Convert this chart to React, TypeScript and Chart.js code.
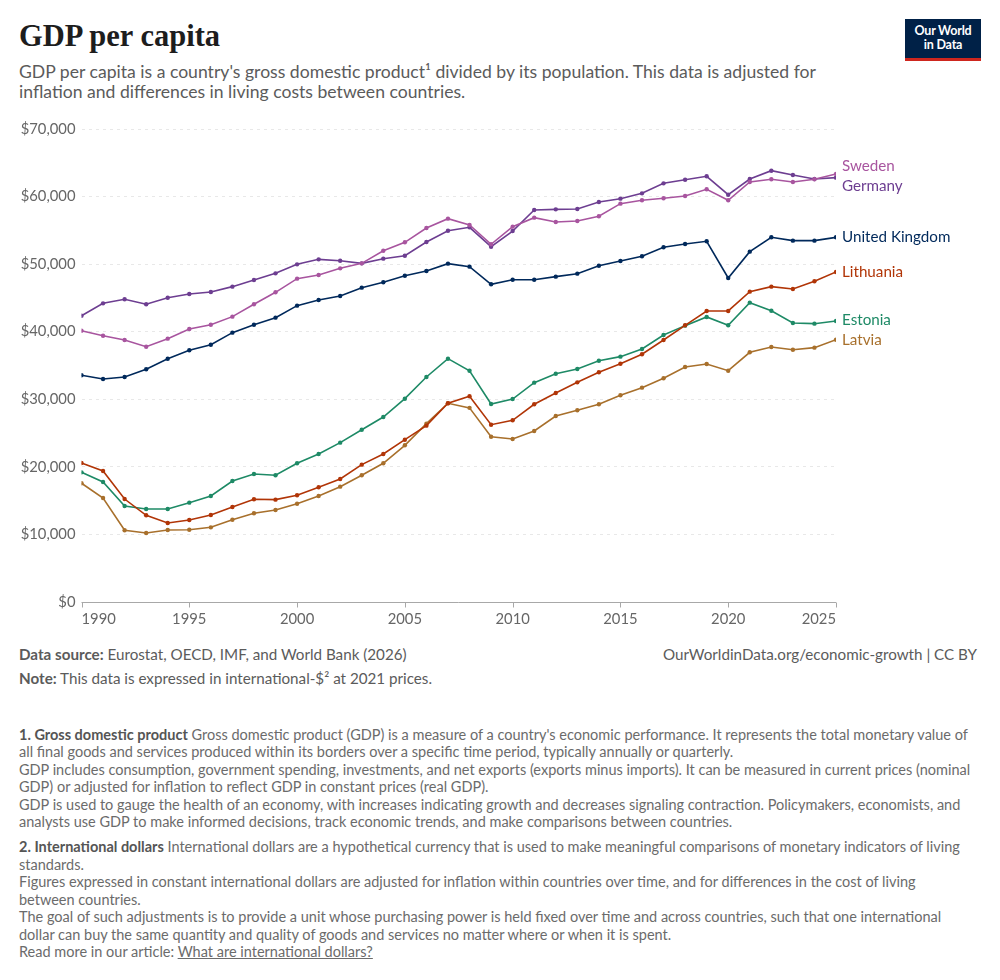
import React, { useEffect, useRef } from "react";
import { Chart, registerables } from "chart.js";

Chart.register(...registerables);

const years = [
  1990, 1991, 1992, 1993, 1994, 1995, 1996, 1997, 1998, 1999, 2000, 2001,
  2002, 2003, 2004, 2005, 2006, 2007, 2008, 2009, 2010, 2011, 2012, 2013,
  2014, 2015, 2016, 2017, 2018, 2019, 2020, 2021, 2022, 2023, 2024, 2025,
];

const sweden = [
  40150, 39410, 38770, 37780, 38970, 40400, 41040, 42230, 44060, 45830, 47850,
  48390, 49380, 50120, 51990, 53230, 55350, 56730, 55790, 52940, 55550, 56880,
  56240, 56390, 57080, 58950, 59450, 59750, 60090, 61080, 59450, 62160, 62560,
  62160, 62560, 63340,
];
const germany = [
  42370, 44200, 44800, 44060, 45030, 45580, 45880, 46670, 47650, 48640, 49970,
  50710, 50510, 50120, 50810, 51250, 53280, 54950, 55450, 52580, 54900, 58010,
  58110, 58160, 59200, 59690, 60480, 61960, 62500, 63000, 60280, 62600, 63830,
  63190, 62600, 62800,
];
const unitedKingdom = [
  33550, 33000, 33300, 34440, 36010, 37250, 38080, 39860, 41040, 42080, 43860,
  44690, 45290, 46520, 47310, 48290, 48990, 50070, 49630, 47020, 47700, 47700,
  48150, 48590, 49770, 50470, 51160, 52490, 52980, 53380, 47950, 51850, 53970,
  53480, 53480, 53970,
];
const lithuania = [
  20570, 19390, 15240, 12830, 11690, 12140, 12880, 14060, 15200, 15150, 15790,
  16980, 18200, 20330, 21900, 24020, 26100, 29410, 30460, 26240, 26890, 29260,
  30930, 32510, 34000, 35270, 36660, 38770, 40950, 43070, 43070, 45930, 46670,
  46320, 47460, 48840,
];
const estonia = [
  19190, 17760, 14210, 13760, 13760, 14700, 15690, 17910, 18940, 18750, 20530,
  21900, 23580, 25500, 27380, 30090, 33300, 36010, 34220, 29300, 30040, 32460,
  33790, 34480, 35710, 36310, 37440, 39510, 40900, 42180, 40950, 44300, 43110,
  41290, 41190, 41590,
];
const latvia = [
  17570, 15390, 10610, 10210, 10660, 10700, 11050, 12180, 13130, 13620, 14550,
  15690, 17070, 18750, 20530, 23190, 26390, 29410, 28730, 24460, 24120, 25310,
  27530, 28370, 29260, 30590, 31720, 33110, 34780, 35220, 34230, 36950, 37740,
  37340, 37640, 38820,
];

const seriesNames = ["Sweden", "Germany", "United Kingdom", "Lithuania", "Estonia", "Latvia"];
const seriesValues = [sweden, germany, unitedKingdom, lithuania, estonia, latvia];
const seriesColors = ["#a8559f", "#6d3e91", "#00295b", "#b13507", "#1e8a66", "#a8702c"];

const xTicks = [1990, 1995, 2000, 2005, 2010, 2015, 2020, 2025];
const yTicks = [0, 10000, 20000, 30000, 40000, 50000, 60000, 70000];

const FONT = "Lato, 'Noto Sans', sans-serif";

const overlayPlugin = {
  id: "owidOverlay",
  afterDraw(chart: any) {
    const { ctx, chartArea, scales } = chart;
    const xs = scales.x;
    const ys = scales.y;
    ctx.save();
    const by = Math.round(chartArea.bottom) + 0.5;
    ctx.strokeStyle = "#a8a8a8";
    ctx.lineWidth = 1;
    ctx.beginPath();
    ctx.moveTo(chartArea.left, by);
    ctx.lineTo(chartArea.right, by);
    xTicks.forEach((t) => {
      const px = Math.round(xs.getPixelForValue(t)) + 0.5;
      ctx.moveTo(px, by);
      ctx.lineTo(px, by + 5);
    });
    ctx.stroke();
    ctx.fillStyle = "#666666";
    ctx.font = `14.8px ${FONT}`;
    ctx.textBaseline = "alphabetic";
    xTicks.forEach((t, i) => {
      const px = xs.getPixelForValue(t);
      ctx.textAlign = i === 0 ? "left" : i === xTicks.length - 1 ? "right" : "center";
      ctx.fillText(String(t), px, by + 21);
    });
    const items = seriesNames.map((name, i) => {
      const vals = seriesValues[i];
      const y = ys.getPixelForValue(vals[vals.length - 1]);
      return { name, color: seriesColors[i], y, ly: y };
    });
    const sorted = [...items].sort((a, b) => a.y - b.y);
    const minGap = 20;
    for (let iter = 0; iter < 50; iter++) {
      for (let k = 0; k < sorted.length - 1; k++) {
        const a = sorted[k];
        const b = sorted[k + 1];
        const gap = b.ly - a.ly;
        if (gap < minGap) {
          const d = (minGap - gap) / 2;
          a.ly -= d;
          b.ly += d;
        }
      }
    }
    ctx.font = `15.2px ${FONT}`;
    ctx.textAlign = "left";
    ctx.textBaseline = "middle";
    const lx = xs.getPixelForValue(years[years.length - 1]) + 6;
    items.forEach((it) => {
      ctx.fillStyle = it.color;
      ctx.fillText(it.name, lx, it.ly);
    });
    ctx.restore();
  },
};

function GdpChart() {
  const ref = useRef<HTMLCanvasElement | null>(null);
  useEffect(() => {
    if (!ref.current) return;
    const datasets = seriesNames.map((name, i) => ({
      label: name,
      data: years.map((yr, j) => ({ x: yr, y: seriesValues[i][j] })),
      borderColor: seriesColors[i],
      backgroundColor: seriesColors[i],
      pointBackgroundColor: seriesColors[i],
      pointBorderWidth: 0,
      pointRadius: 2.2,
      borderWidth: 1.6,
      tension: 0,
      fill: false,
    }));
    const chart = new Chart(ref.current, {
      type: "line",
      data: { datasets },
      options: {
        animation: false,
        responsive: false,
        maintainAspectRatio: false,
        layout: { padding: { top: 19, right: 164, bottom: 28, left: 0 } },
        plugins: {
          legend: { display: false },
          tooltip: { enabled: false },
        },
        scales: {
          x: {
            type: "linear",
            min: years[0],
            max: years[years.length - 1],
            display: false,
          },
          y: {
            type: "linear",
            min: yTicks[0],
            max: yTicks[yTicks.length - 1],
            afterFit: (scale: any) => {
              scale.width = 81.5;
            },
            afterBuildTicks: (scale: any) => {
              scale.ticks = yTicks.map((v) => ({ value: v }));
            },
            grid: {
              color: "#e8e8e8",
              drawTicks: false,
              lineWidth: 1,
            },
            border: { display: false, dash: [3, 4] },
            ticks: {
              padding: 6,
              color: "#666666",
              font: { family: FONT, size: 14.8 },
              callback: (v: any) => "$" + Number(v).toLocaleString("en-US"),
            },
          },
        },
      },
      plugins: [overlayPlugin],
    });
    return () => chart.destroy();
  }, []);
  return (
    <canvas
      ref={ref}
      width={1000}
      height={520}
      style={{ position: "absolute", left: 0, top: 110, width: 1000, height: 520 }}
    />
  );
}

const fnLine: React.CSSProperties = { whiteSpace: "nowrap", height: 17.5 };

export default function App() {
  return (
    <div
      style={{
        position: "absolute",
        left: 0,
        top: 0,
        width: 1000,
        height: 980,
        background: "#ffffff",
        fontFamily: FONT,
        overflow: "hidden",
      }}
    >
      <div
        style={{
          position: "absolute",
          left: 19,
          top: 21,
          fontFamily: "'Liberation Serif', 'DejaVu Serif', serif",
          fontWeight: 700,
          fontSize: 30.5,
          lineHeight: "31px",
          color: "#1d1d1d",
          whiteSpace: "nowrap",
        }}
      >
        GDP per capita
      </div>
      <div
        style={{
          position: "absolute",
          left: 19,
          top: 61.5,
          fontSize: 17.6,
          lineHeight: "20px",
          color: "#5b5b5b",
          whiteSpace: "nowrap",
        }}
      >
        <div>
          GDP per capita is a country's gross domestic product¹ divided by its population. This data is adjusted for
        </div>
        <div>inflation and differences in living costs between countries.</div>
      </div>
      <div
        style={{
          position: "absolute",
          left: 905,
          top: 19,
          width: 76,
          height: 42,
          background: "#002147",
          color: "#ffffff",
          fontWeight: 700,
          fontSize: 12.5,
          lineHeight: "14px",
          textAlign: "center",
          boxSizing: "border-box",
          paddingTop: 5,
          borderBottom: "3px solid #ce261e",
          letterSpacing: -0.2,
        }}
      >
        <div>Our World</div>
        <div>in Data</div>
      </div>

      <GdpChart />

      <div
        style={{
          position: "absolute",
          left: 19,
          top: 642,
          fontSize: 15.2,
          lineHeight: "24px",
          color: "#5b5b5b",
          whiteSpace: "nowrap",
        }}
      >
        <div>
          <b style={{ fontWeight: 700 }}>Data source:</b> Eurostat, OECD, IMF, and World Bank (2026)
        </div>
        <div>
          <b style={{ fontWeight: 700 }}>Note:</b> This data is expressed in international-$² at 2021 prices.
        </div>
      </div>
      <div
        style={{
          position: "absolute",
          right: 23,
          top: 642,
          fontSize: 15.2,
          lineHeight: "24px",
          color: "#5b5b5b",
          whiteSpace: "nowrap",
        }}
      >
        OurWorldinData.org/economic-growth | CC BY
      </div>

      <div
        style={{
          position: "absolute",
          left: 19,
          top: 725.5,
          fontSize: 14.5,
          lineHeight: "17.5px",
          color: "#6b6b6b",
        }}
      >
        <div style={fnLine}>
          <b style={{ color: "#555" }}>1. Gross domestic product</b> Gross domestic product (GDP) is a measure of a country's economic performance. It represents the total monetary value of
        </div>
        <div style={fnLine}>
          all final goods and services produced within its borders over a specific time period, typically annually or quarterly.
        </div>
        <div style={fnLine}>
          GDP includes consumption, government spending, investments, and net exports (exports minus imports). It can be measured in current prices (nominal
        </div>
        <div style={fnLine}>GDP) or adjusted for inflation to reflect GDP in constant prices (real GDP).</div>
        <div style={fnLine}>
          GDP is used to gauge the health of an economy, with increases indicating growth and decreases signaling contraction. Policymakers, economists, and
        </div>
        <div style={fnLine}>
          analysts use GDP to make informed decisions, track economic trends, and make comparisons between countries.
        </div>
      </div>

      <div
        style={{
          position: "absolute",
          left: 19,
          top: 838,
          fontSize: 14.5,
          lineHeight: "17.5px",
          color: "#6b6b6b",
        }}
      >
        <div style={fnLine}>
          <b style={{ color: "#555" }}>2. International dollars</b> International dollars are a hypothetical currency that is used to make meaningful comparisons of monetary indicators of living
        </div>
        <div style={fnLine}>standards.</div>
        <div style={fnLine}>
          Figures expressed in constant international dollars are adjusted for inflation within countries over time, and for differences in the cost of living
        </div>
        <div style={fnLine}>between countries.</div>
        <div style={fnLine}>
          The goal of such adjustments is to provide a unit whose purchasing power is held fixed over time and across countries, such that one international
        </div>
        <div style={fnLine}>dollar can buy the same quantity and quality of goods and services no matter where or when it is spent.</div>
        <div style={fnLine}>
          Read more in our article: <span style={{ textDecoration: "underline" }}>What are international dollars?</span>
        </div>
      </div>
    </div>
  );
}
